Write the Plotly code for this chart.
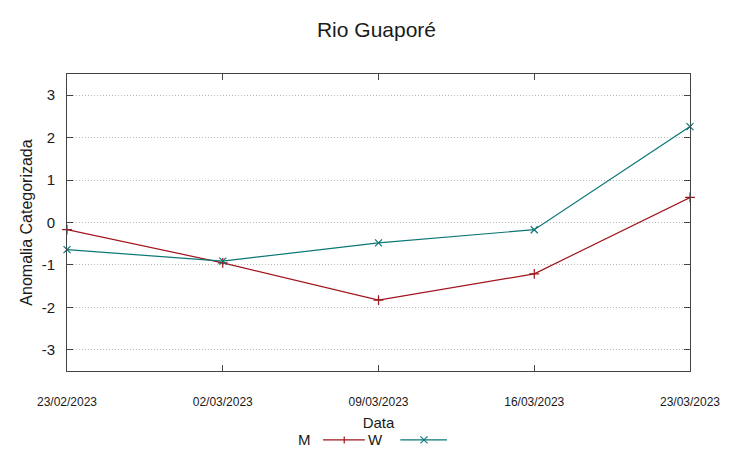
import plotly.graph_objects as go

dates = ["2023-02-23", "2023-03-02", "2023-03-09", "2023-03-16", "2023-03-23"]
date_labels = ["23/02/2023", "02/03/2023", "09/03/2023", "16/03/2023", "23/03/2023"]
m_values = [-0.17, -0.95, -1.83, -1.21, 0.59]
w_values = [-0.64, -0.91, -0.48, -0.17, 2.26]
y_ticks = [-3, -2, -1, 0, 1, 2, 3]
y_tick_labels = ["-3", "-2", "-1", "0", "1", "2", "3"]

M_COLOR = "#a0141c"
W_COLOR = "#0b7676"
FONT = "Liberation Sans"

fig = go.Figure()
fig.add_trace(go.Scatter(x=dates, y=m_values, mode="lines+markers", name="M",
                         line=dict(color=M_COLOR, width=1.2),
                         marker=dict(symbol="cross-thin", size=7, line=dict(color=M_COLOR, width=1.2)),
                         cliponaxis=False, showlegend=False))
fig.add_trace(go.Scatter(x=dates, y=w_values, mode="lines+markers", name="W",
                         line=dict(color=W_COLOR, width=1.2),
                         marker=dict(symbol="x-thin", size=7, line=dict(color=W_COLOR, width=1.2)),
                         cliponaxis=False, showlegend=False))

fig.update_layout(
    width=753, height=459,
    margin=dict(l=67, r=63, t=74, b=88),
    paper_bgcolor="white", plot_bgcolor="white",
    font=dict(family=FONT, color="#1a1a1a"),
    title=dict(text="Rio Guaporé", x=0.5, xanchor="center", y=0.935, yanchor="middle",
               font=dict(size=21, family=FONT, color="#1a1a1a")),
)
fig.update_xaxes(
    type="date", range=[dates[0], dates[-1]],
    tickvals=dates, ticktext=date_labels,
    tickfont=dict(family=FONT, size=12, color="#1a1a1a"),
    ticks="inside", ticklen=6, tickcolor="#444444",
    showline=True, linecolor="#444444", linewidth=1, mirror="ticks",
    showgrid=False, zeroline=False, ticklabelstandoff=20,
    title=dict(text="Data", font=dict(size=15, family=FONT, color="#1a1a1a"), standoff=9),
)
fig.update_yaxes(
    range=[-3.5, 3.5], tickvals=y_ticks, ticktext=y_tick_labels,
    tickfont=dict(size=15, family=FONT, color="#1a1a1a"),
    ticks="inside", ticklen=6, tickcolor="#444444",
    showline=True, linecolor="#444444", linewidth=1, mirror="ticks",
    showgrid=True, gridcolor="#b8b8b8", griddash="1px,2px", gridwidth=1,
    zeroline=False, ticklabelstandoff=8,
    title=dict(text="Anomalia Categorizada", font=dict(size=16, family=FONT, color="#1a1a1a"), standoff=5),
)

# custom gnuplot-style legend: label then sample line with marker
# (label right edge, line start, marker pos, line end) in paper coords
legend_items = [("M", M_COLOR, "plus", 0.395, 0.411, 0.445, 0.478),
                ("W", W_COLOR, "x", 0.511, 0.535, 0.573, 0.610)]
LEG_Y = -0.232
DX = 3.5 / 623
DY = 3.5 / 297
for label, color, sym, xt, x0, xm, x1 in legend_items:
    fig.add_annotation(text=label, xref="paper", yref="paper", x=xt, y=LEG_Y,
                       xanchor="right", yanchor="middle", showarrow=False,
                       font=dict(size=15, family=FONT, color="#1a1a1a"))
    fig.add_shape(type="line", xref="paper", yref="paper", x0=x0, x1=x1,
                  y0=LEG_Y, y1=LEG_Y, line=dict(color=color, width=1.2))
    if sym == "plus":
        fig.add_shape(type="line", xref="paper", yref="paper", x0=xm, x1=xm,
                      y0=LEG_Y - DY, y1=LEG_Y + DY, line=dict(color=color, width=1.2))
    else:
        fig.add_shape(type="line", xref="paper", yref="paper", x0=xm - DX, x1=xm + DX,
                      y0=LEG_Y - DY, y1=LEG_Y + DY, line=dict(color=color, width=1.2))
        fig.add_shape(type="line", xref="paper", yref="paper", x0=xm - DX, x1=xm + DX,
                      y0=LEG_Y + DY, y1=LEG_Y - DY, line=dict(color=color, width=1.2))

fig.write_html("out.html", config={"displayModeBar": False},
               post_script="document.body.style.margin='0';")
